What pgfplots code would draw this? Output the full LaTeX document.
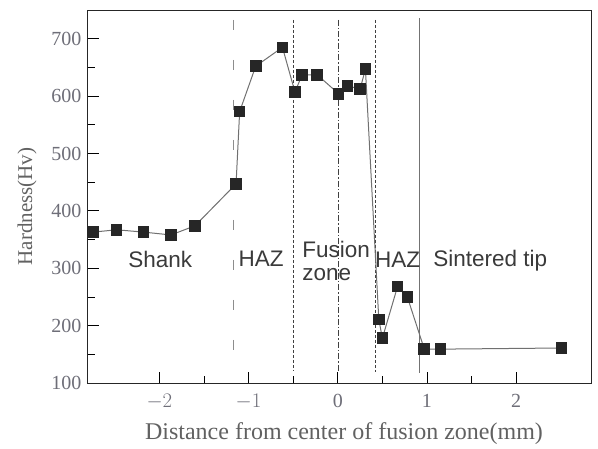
\documentclass[border=0pt]{standalone}
\usepackage{pgfplots}
\pgfplotsset{compat=1.18}
\usepackage{fontspec}
\setmainfont{Liberation Serif}
\setsansfont{Liberation Sans}
\definecolor{tickgray}{HTML}{6E6E78}
\definecolor{labgray}{HTML}{3A3A3A}
\definecolor{linegray}{HTML}{707070}

\begin{document}
\begin{tikzpicture}[x=1pt,y=1pt]
\begin{axis}[
    scale only axis,
    width=504pt, height=373pt,
    xmin=-2.8, xmax=2.85,
    ymin=100, ymax=750,
    xtick={-2,-1,0,1,2},
    xticklabels={$-2$,$-1$,0,1,2},
    ytick={100,200,...,700},
    minor tick num=1,
    tick pos=left,
    tick align=inside,
    major tick length=11pt,
    minor tick length=7pt,
    every tick/.style={black, line width=0.8pt},
    tick label style={font=\fontsize{20}{20}\selectfont, text=tickgray},
    /pgf/number format/assume math mode=true,
    yticklabel style={xshift=-3pt},
    xticklabel style={yshift=-8pt},
    axis line style={line width=1pt, black!85},
    xlabel={Distance from center of fusion zone(mm)},
    ylabel={Hardness(Hv)},
    label style={text=labgray!80},
    xlabel style={font=\fontsize{24}{24}\selectfont, yshift=-6pt, xshift=4pt},
    ylabel style={font=\fontsize{21}{21}\selectfont, yshift=8pt, xshift=-10pt},
    clip=false,
]
% zone boundaries
\addplot[linegray!80, line width=0.8pt, dash pattern=on 10pt off 30pt] coordinates {(-1.17,733) (-1.17,149)};
\addplot[black!75, line width=0.8pt, dash pattern=on 3pt off 2pt] coordinates {(-0.50,733) (-0.50,123)};
\addplot[black!75, line width=0.8pt, dash pattern=on 6pt off 2pt on 1.5pt off 2pt] coordinates {(0.01,733) (0.01,118)};
\addplot[black!75, line width=0.8pt, dash pattern=on 3pt off 2pt] coordinates {(0.42,733) (0.42,120)};
\addplot[black!55, line width=0.8pt] coordinates {(0.92,736) (0.92,118)};

% hardness profile
\addplot[linegray, line width=1pt, mark=square*, mark size=5.3pt,
    mark options={solid, fill=black!85, draw=black!85}] coordinates {
    (-2.74,363) (-2.48,367) (-2.18,363) (-1.87,358) (-1.60,374)
    (-1.14,447) (-1.10,573) (-0.92,652) (-0.62,685) (-0.48,607)
    (-0.40,637) (-0.23,637) (0.01,604) (0.11,618) (0.25,612)
    (0.31,647) (0.46,211) (0.50,178) (0.67,268) (0.78,250)
    (0.97,159) (1.15,159) (2.51,161)
};

\begin{scope}[every node/.style={font=\sffamily\fontsize{22.5}{23}\selectfont, text=labgray}]
\node at (axis cs:-1.99,316) {Shank};
\node at (axis cs:-0.86,316) {HAZ};
\node[anchor=west, align=left, inner sep=0pt] at (axis cs:-0.40,312) {Fusion\\zone};
\node at (axis cs:0.67,314) {HAZ};
\node at (axis cs:1.71,314) {Sintered tip};
\end{scope}
\end{axis}
\pgfresetboundingbox
\path (-88,-65) rectangle (510,383);
\end{tikzpicture}
\end{document}
